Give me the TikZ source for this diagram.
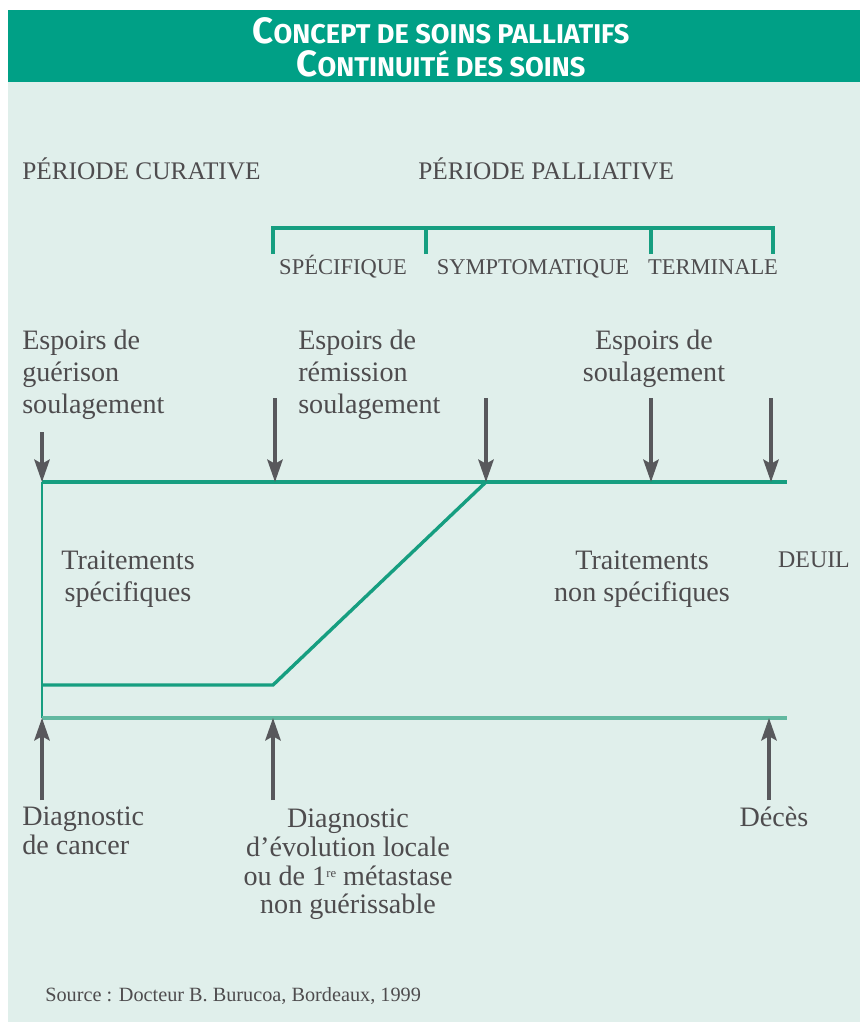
\documentclass[tikz,border=0pt]{standalone}
\usepackage{fontspec}
\setmainfont{Liberation Serif}
\newfontfamily\headfont{Fira Sans}
\usetikzlibrary{positioning,arrows.meta}
\definecolor{mint}{RGB}{224,239,235}
\definecolor{soinsvert}{RGB}{0,160,134}
\definecolor{lignevert}{RGB}{22,158,128}
\definecolor{lignepale}{RGB}{98,184,160}
\definecolor{encre}{RGB}{78,76,78}
\definecolor{fleche}{RGB}{88,88,92}
\newcommand\petitcap[2]{{\fontsize{26}{24}\selectfont #1}{\fontsize{19.3}{24}\selectfont #2}}
\newcommand\premiere{{\fontsize{9}{9}\selectfont\raisebox{5pt}{re}}}
\tikzset{
  texte/.style={font=\fontsize{20}{22.7}\selectfont, text=encre, inner sep=0pt},
  periode/.style={font=\fontsize{18}{20}\selectfont, text=encre, inner sep=0pt},
  phase/.style={font=\fontsize{16}{18}\selectfont, text=encre, inner sep=0pt},
  fleche/.style={draw=fleche, line width=2.2pt, -{Stealth[length=16pt,width=11pt,inset=3pt]}},
  trait/.style={draw=lignevert, line width=2.4pt},
}

\begin{document}
\begin{tikzpicture}[x=0.025cm,y=-0.025cm]
	%% cadre
	\useasboundingbox (0,0) rectangle (860,1027);
	\fill[mint] (8,10) rectangle (860,1022);
	\fill[soinsvert] (8,10) rectangle (860,82);
	\node[font=\headfont\bfseries\fontsize{19.3}{23.5}\selectfont, text=white, align=center, inner sep=0pt, anchor=north] (titre) at (441,17)
		{\petitcap{C}{ONCEPT DE SOINS PALLIATIFS}\\\petitcap{C}{ONTINUITÉ DES SOINS}};

	%% periodes
	\node[periode, anchor=base west] (curative) at (22,179) {PÉRIODE CURATIVE};
	\node[periode, anchor=base west] (palliative) at (418,179) {PÉRIODE PALLIATIVE};

	% accolade des phases
	\coordinate (brA) at (273,254);
	\coordinate (brAh) at (273,228);
	\coordinate (brB) at (426,254);
	\coordinate (brBh) at (426,228);
	\coordinate (brC) at (651,254);
	\coordinate (brCh) at (651,228);
	\coordinate (brD) at (773,254);
	\coordinate (brDh) at (773,228);
	\draw[trait, line width=2.2pt] (brA) -- (brAh) -- (brDh) -- (brD);
	\draw[trait, line width=2.2pt] (brB) -- (brBh);
	\draw[trait, line width=2.2pt] (brC) -- (brCh);
	\node[phase, anchor=base] (specifique) at (343,274) {SPÉCIFIQUE};
	\node[phase, anchor=base] (symptomatique) at (533,274) {SYMPTOMATIQUE};
	\node[phase, anchor=base] (terminale) at (713,274) {TERMINALE};

	%% espoirs
	\node[texte, anchor=north west, align=left] (espoirGuerison) at (22,330) {Espoirs de\\guérison\\soulagement};
	\node[texte, anchor=north west, align=left] (espoirRemission) at (298,330) {Espoirs de\\rémission\\soulagement};
	\node[texte, anchor=north, align=center] (espoirSoulagement) at (654,330) {Espoirs de\\soulagement};

	%% lignes du temps
	\coordinate (tA) at (42,482);
	\coordinate (tB) at (275,482);
	\coordinate (tC) at (486,482);
	\coordinate (tD) at (651,482);
	\coordinate (tE) at (771,482);
	\coordinate (tFin) at (787,482);
	\coordinate (lowA) at (42,685);
	\coordinate (lowB) at (273,685);
	\coordinate (bA) at (42,718);
	\coordinate (bB) at (273,718);
	\coordinate (bE) at (769,718);
	\coordinate (bFin) at (787,718);

	\draw[trait, line width=1.6pt] (tA) -- (bA);
	\draw[trait] (tA) -- (tFin);
	\draw[trait] (lowA) -- (lowB) -- (tC);
	\draw[trait, draw=lignepale] (bA) -- (bFin);

	% fleches du haut
	\coordinate (aA) at (42,432);
	\coordinate (aB) at (275,398);
	\coordinate (aC) at (486,398);
	\coordinate (aD) at (651,398);
	\coordinate (aE) at (771,398);
	\draw[fleche] (aA) -- (tA);
	\draw[fleche] (aB) -- (tB);
	\draw[fleche] (aC) -- (tC);
	\draw[fleche] (aD) -- (tD);
	\draw[fleche] (aE) -- (tE);

	% fleches du bas
	\coordinate (cA) at (42,800);
	\coordinate (cB) at (273,800);
	\coordinate (cE) at (769,800);
	\draw[fleche] (cA) -- (bA);
	\draw[fleche] (cB) -- (bB);
	\draw[fleche] (cE) -- (bE);

	%% traitements
	\node[texte, anchor=north, align=center] (traitSpec) at (128,551) {Traitements\\spécifiques};
	\node[texte, anchor=north, align=center] (traitNonSpec) at (642,551) {Traitements\\non spécifiques};
	\node[texte, font=\fontsize{17}{20}\selectfont, anchor=base] (deuil) at (814,567) {DEUIL};

	%% diagnostics
	\node[texte, font=\fontsize{20}{20.3}\selectfont, anchor=north west, align=left] (diagCancer) at (22,807) {Diagnostic\\de cancer};
	\node[texte, font=\fontsize{20}{20.3}\selectfont, anchor=north, align=center] (diagEvolution) at (348,809)
		{Diagnostic\\d’évolution locale\\ou de 1\premiere{} métastase\\non guérissable};
	\node[texte, anchor=north] (deces) at (774,807) {Décès};

	\node[texte, font=\fontsize{14.4}{16}\selectfont, anchor=base west] (source) at (45,1001) {Source : Docteur B. Burucoa, Bordeaux, 1999};
\end{tikzpicture}
\end{document}
